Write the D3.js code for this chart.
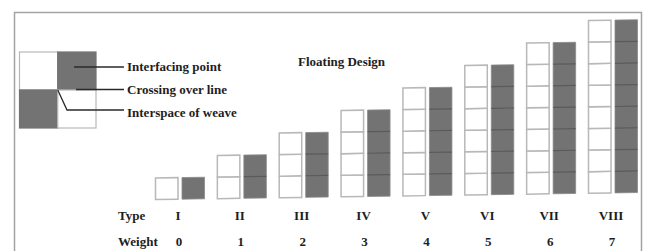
<!DOCTYPE html>
<html>
<head>
<meta charset="utf-8">
<script src="https://cdn.jsdelivr.net/npm/d3@7"></script>
<style>
body { margin: 0; background: #fff; }
text { font-family: "Liberation Serif", "Times New Roman", serif; font-weight: bold; fill: #1e1e1e; }
</style>
</head>
<body>
<div id="chart"></div>
<script>
// data
var types = ["I", "II", "III", "IV", "V", "VI", "VII", "VIII"];
var weights = [0, 1, 2, 3, 4, 5, 6, 7];
var legendLabels = ["Interfacing point", "Crossing over line", "Interspace of weave"];
var legendFills = [[0, 1], [1, 0]]; // rows of the 2x2 weave key, 1 = interfacing point
var title = "Floating Design";

var width = 649, height = 251;
var grey = "#737373", greyLine = "#5b5b5b", cellLine = "#b8b8b8";

var svg = d3.select("#chart").append("svg")
    .attr("width", width)
    .attr("height", height);

// frame (open at the bottom)
svg.append("path")
    .attr("d", "M14.5," + height + "V12.5H641.5V" + height)
    .attr("fill", "none")
    .attr("stroke", "#a3a3a3")
    .attr("stroke-width", 1.5);

var x = d3.scalePoint().domain(types).range([180, 613]);
var y = d3.scaleLinear().domain([0, 8]).range([196, 23.2]);

var cellW = 22.5;

// the drawing leans slightly upward to the right
var bars = svg.append("g")
    .attr("transform", "translate(400,196) skewY(-0.83) translate(-400,-196)");

var cells = [];
types.forEach(function (t, i) {
    for (var k = 0; k <= weights[i]; k++) cells.push({type: t, k: k});
});

// open (white) column, one square per cell
bars.selectAll("rect.open").data(cells).enter().append("rect")
    .attr("class", "open")
    .attr("x", function (d) { return x(d.type) - 24.5; })
    .attr("y", function (d) { return y(d.k + 1); })
    .attr("width", cellW)
    .attr("height", function (d) { return y(d.k) - y(d.k + 1); })
    .attr("fill", "#fff")
    .attr("stroke", cellLine)
    .attr("stroke-width", 1.5);

// filled column
bars.selectAll("rect.fill").data(types).enter().append("rect")
    .attr("class", "fill")
    .attr("x", function (d) { return x(d) + 2; })
    .attr("y", function (d, i) { return y(weights[i] + 1); })
    .attr("width", cellW)
    .attr("height", function (d, i) { return y(0) - y(weights[i] + 1); })
    .attr("fill", grey)
    .attr("stroke", "#8a8a8a")
    .attr("stroke-width", 0.8);

bars.selectAll("line.fill").data(cells.filter(function (d) { return d.k > 0; })).enter().append("line")
    .attr("class", "fill")
    .attr("x1", function (d) { return x(d.type) + 2; })
    .attr("x2", function (d) { return x(d.type) + 2 + cellW; })
    .attr("y1", function (d) { return y(d.k); })
    .attr("y2", function (d) { return y(d.k); })
    .attr("stroke", greyLine)
    .attr("stroke-width", 1.2);

// row labels
svg.append("text").attr("x", 118).attr("y", 220).attr("font-size", 13).text("Type");
svg.append("text").attr("x", 118).attr("y", 246).attr("font-size", 13).text("Weight");

svg.selectAll("text.type").data(types).enter().append("text")
    .attr("class", "type")
    .attr("x", function (d) { return x(d) - 2; })
    .attr("y", 220)
    .attr("text-anchor", "middle")
    .attr("font-size", 13)
    .text(function (d) { return d; });

svg.selectAll("text.weight").data(weights).enter().append("text")
    .attr("class", "weight")
    .attr("x", function (d, i) { return x(types[i]) - 1; })
    .attr("y", 246)
    .attr("text-anchor", "middle")
    .attr("font-size", 13)
    .text(function (d) { return d; });

svg.append("text")
    .attr("x", 298).attr("y", 66)
    .attr("font-size", 13)
    .text(title);

// weave key
var lx = d3.scaleLinear().domain([0, 2]).range([19.5, 96]);
var ly = d3.scaleLinear().domain([0, 2]).range([52, 128]);

var key = svg.append("g");
var keyCells = [];
legendFills.forEach(function (row, r) {
    row.forEach(function (f, c) { keyCells.push({r: r, c: c, f: f}); });
});

key.selectAll("rect").data(keyCells).enter().append("rect")
    .attr("x", function (d) { return lx(d.c); })
    .attr("y", function (d) { return ly(d.r); })
    .attr("width", function (d) { return lx(d.c + 1) - lx(d.c); })
    .attr("height", function (d) { return ly(d.r + 1) - ly(d.r); })
    .attr("fill", function (d) { return d.f ? grey : "#fff"; })
    .attr("stroke", function (d) { return d.f ? grey : cellLine; })
    .attr("stroke-width", 1.2);

// leader lines to the key labels
var leaders = [
    [[74, 67], [124, 67]],
    [[76, 89.5], [124, 89.5]],
    [[lx(1), ly(1)], [67, 110], [124, 110]]
];
key.selectAll("path").data(leaders).enter().append("path")
    .attr("d", d3.line())
    .attr("fill", "none")
    .attr("stroke", "#2a2a2a")
    .attr("stroke-width", 1.3);

key.selectAll("text").data(legendLabels).enter().append("text")
    .attr("x", 127)
    .attr("y", function (d, i) { return [71, 94, 117][i]; })
    .attr("font-size", 13)
    .text(function (d) { return d; });
</script>
</body>
</html>
